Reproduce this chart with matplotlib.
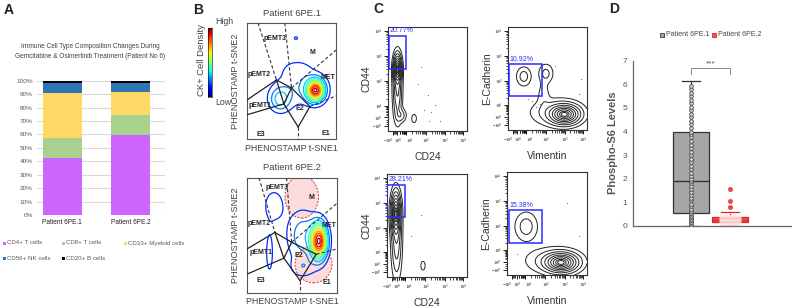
import numpy as np
import matplotlib
matplotlib.use('Agg')
import matplotlib.pyplot as plt
from matplotlib import font_manager
from matplotlib.patches import Rectangle, Ellipse
from matplotlib.colors import Normalize

W, H = 792, 308
_names = {f.name for f in font_manager.fontManager.ttflist}
HAS_NARROW = 'Liberation Sans Narrow' in _names
NARROW = 'Liberation Sans Narrow' if HAS_NARROW else 'Liberation Sans'
NS = 1.2 if HAS_NARROW else 1.0   # size factor for narrow text
SANS = 'Liberation Sans'
plt.rcParams['font.family'] = [SANS, 'DejaVu Sans']
plt.rcParams['mathtext.fontset'] = 'custom'
plt.rcParams['mathtext.rm'] = 'Liberation Serif'
plt.rcParams['mathtext.it'] = 'Liberation Serif:italic'

# ---------------- Panel A data ----------------
a_patients = ['Patient 6PE.1', 'Patient 6PE.2']
a_types = ['CD4+ T cells', 'CD8+ T cells', 'CD33+ Myeloid cells', 'CD56+ NK cells', 'CD20+ B cells']
a_cd4 = [42.5, 59.5]
a_cd8 = [15.0, 15.0]
a_cd33 = [33.5, 17.0]
a_cd56 = [7.5, 6.5]
a_cd20 = [1.5, 2.0]
a_colors = ['#cc66ff', '#a9d18e', '#ffd966', '#2e75b6', '#000000']
a_yticks = [0, 10, 20, 30, 40, 50, 60, 70, 80, 90, 100]
a_title = 'Immune Cell Type Composition Changes During\nGemcitabine & Osimertinib Treatment (Patient No 6)'

# ---------------- Panel B data ----------------
b_titles = ['Patient 6PE.1', 'Patient 6PE.2']
b_region_names = ['pEMT3', 'M', 'pEMT2', 'MET', 'pEMT1', 'E2', 'E3', 'E1']
b_region_pos_1 = [(0.31, 0.87), (0.73, 0.75), (0.14, 0.56), (0.91, 0.53), (0.15, 0.29), (0.59, 0.265), (0.15, 0.04), (0.89, 0.05)]
b_region_pos_2 = [(0.33, 0.92), (0.72, 0.83), (0.13, 0.605), (0.91, 0.585), (0.16, 0.35), (0.58, 0.325), (0.15, 0.105), (0.89, 0.095)]
# vertices: pEMT2, centre, pEMT1, right, bottom
b_vert_1 = [(0.331, 0.509), (0.50, 0.44), (0.414, 0.303), (0.707, 0.28), (0.575, 0.103)]
b_vert_2 = [(0.31, 0.527), (0.496, 0.441), (0.41, 0.303), (0.769, 0.337), (0.59, 0.107)]
b_edge_1 = [(0.124, 1.0), (0.425, 1.0), (1.0, 0.766), (1.0, 0.371), (0.575, 0.0), (0.0, 0.337), (0.0, 0.209)]
b_edge_2 = [(0.134, 1.0), (0.44, 1.0), (1.0, 0.78), (1.0, 0.383), (0.59, 0.0), (0.0, 0.383), (0.0, 0.164)]
# density blobs: (cx, cy, sx, sy, amplitude)
b_blobs_1 = [(0.77, 0.42, 0.065, 0.06, 1.0), (0.37, 0.34, 0.08, 0.07, 0.28), (0.60, 0.45, 0.20, 0.12, 0.15),
             (0.56, 0.60, 0.10, 0.05, 0.09), (0.55, 0.87, 0.03, 0.02, 0.09)]
b_blobs_2 = [(0.80, 0.45, 0.06, 0.10, 1.0), (0.62, 0.50, 0.12, 0.15, 0.22), (0.30, 0.76, 0.08, 0.10, 0.14),
             (0.25, 0.35, 0.035, 0.16, 0.11), (0.62, 0.22, 0.10, 0.06, 0.12)]
b_circles_2 = [(0.608, 0.836, 0.373, 0.37), (0.739, 0.251, 0.41, 0.326)]

# ---------------- Panel C data ----------------
c_tick_labels = ['$-10^0$', '$10^0$', '$10^1$', '$10^2$', '$10^3$', '$10^4$']
c_tick_vals = [-1, 1, 10, 100, 1000, 10000]
c_xlabels = ['CD24', 'Vimentin', 'CD24', 'Vimentin']
c_ylabels = ['CD44', 'E-Cadherin', 'CD44', 'E-Cadherin']
c_gate_pct = ['20.77%', '10.92%', '28.21%', '15.38%']
c_gates = [(0.013, 0.597, 0.22, 0.32), (0.013, 0.33, 0.42, 0.31), (0.005, 0.586, 0.215, 0.31), (0.025, 0.306, 0.415, 0.324)]
c_blobs = [
    [(0.12, 0.60, 0.03, 0.08, 1.0), (0.12, 0.40, 0.035, 0.18, 0.45), (0.33, 0.12, 0.022, 0.03, 0.15), (0.17, 0.15, 0.04, 0.04, 0.2)],
    [(0.72, 0.15, 0.11, 0.055, 1.0), (0.62, 0.17, 0.20, 0.08, 0.25), (0.20, 0.52, 0.06, 0.06, 0.2),
     (0.48, 0.55, 0.06, 0.06, 0.18), (0.45, 0.35, 0.05, 0.08, 0.1)],
    [(0.11, 0.62, 0.035, 0.12, 1.0), (0.12, 0.35, 0.04, 0.22, 0.35), (0.45, 0.11, 0.022, 0.035, 0.12)],
    [(0.68, 0.12, 0.12, 0.055, 1.0), (0.58, 0.14, 0.22, 0.08, 0.2), (0.24, 0.47, 0.09, 0.09, 0.2)],
]
c_dots = [
    [(0.45, 0.2), (0.5, 0.35), (0.55, 0.18), (0.6, 0.25), (0.38, 0.45), (0.42, 0.62), (0.66, 0.1), (0.52, 0.1)],
    [(0.3, 0.28), (0.35, 0.22), (0.9, 0.35), (0.25, 0.3), (0.6, 0.62), (0.92, 0.5), (0.4, 0.25)],
    [(0.43, 0.6), (0.3, 0.4)],
    [(0.9, 0.38), (0.12, 0.2), (0.75, 0.7)],
]

# ---------------- Panel D data ----------------
d_groups = ['Patient 6PE.1', 'Patient 6PE.2']
d_q1 = [0.56, 0.16]
d_med = [1.92, 0.25]
d_q3 = [4.0, 0.40]
d_whislo = [0.0, 0.03]
d_whishi = [6.16, 0.61]
d_fliers_2 = [0.79, 1.05, 1.58]
d_points_1 = [0.0, 0.05, 0.12, 0.18, 0.25, 0.31, 0.38, 0.44, 0.5, 0.55, 0.62, 0.72, 0.83, 0.95, 1.08, 1.2,
              1.33, 1.46, 1.58, 1.7, 1.8, 1.9, 2.0, 2.12, 2.25, 2.4, 2.55, 2.7, 2.85, 3.0, 3.15, 3.3, 3.45,
              3.6, 3.75, 3.88, 4.0, 4.15, 4.3, 4.45, 4.6, 4.75, 4.9, 5.05, 5.2, 5.35, 5.5, 5.65, 5.8, 5.92]
d_points_2 = [0.05, 0.1, 0.14, 0.18, 0.21, 0.24, 0.27, 0.3, 0.33, 0.37, 0.42, 0.48, 0.55]
d_yticks = [0, 1, 2, 3, 4, 5, 6, 7]

fig = plt.figure(figsize=(W / 100, H / 100), dpi=100)


def px_axes(x0, y0, x1, y1):
    return fig.add_axes([x0 / W, 1 - y1 / H, (x1 - x0) / W, (y1 - y0) / H])


def ftext(x, y, s, **kw):
    return fig.text(x / W, 1 - y / H, s, **kw)


def density(blobs, n=200):
    g = np.linspace(0, 1, n)
    X, Y = np.meshgrid(g, g)
    Z = np.zeros_like(X)
    for cx, cy, sx, sy, a in blobs:
        Z += a * np.exp(-(((X - cx) / sx) ** 2 + ((Y - cy) / sy) ** 2) / 2)
    return X, Y, Z / Z.max()


# ====== Panel labels ======
for lab, x, y in [('A', 4, 10), ('B', 193, 10), ('C', 373, 9), ('D', 609, 9)]:
    ftext(x, y, lab, fontsize=10, fontweight='bold', va='center', ha='left', color='#222222')

# ====== Panel A ======
axA = px_axes(37, 80.7, 165, 215)
xpos = np.arange(len(a_patients))
bottom = np.zeros(len(a_patients))
for vals, col in zip([a_cd4, a_cd8, a_cd33, a_cd56, a_cd20], a_colors):
    axA.bar(xpos, vals, width=0.571, bottom=bottom, color=col, edgecolor='none', zorder=3)
    bottom += np.array(vals)
axA.set_xlim(-0.369, 1.505)
axA.set_ylim(0, 100)
axA.set_yticks(a_yticks)
axA.set_yticklabels([f'{v}%' for v in a_yticks], fontsize=4.6 * NS, color='#595959', family=NARROW)
axA.set_xticks(xpos)
axA.set_xticklabels(a_patients, fontsize=4.7 * NS, color='#222222', family=NARROW)
axA.tick_params(length=0, pad=3)
axA.grid(axis='y', color='#d9d9d9', linewidth=0.8, zorder=0)
for s in axA.spines.values():
    s.set_visible(False)
ftext(90, 52, a_title, fontsize=4.7 * NS, ha='center', va='center', color='#404040', family=NARROW, linespacing=1.6)
leg_pos = [(3, 243), (62, 243), (124, 243), (3, 258), (62, 258)]
for (lx, ly), name, col in zip(leg_pos, a_types, a_colors):
    fig.patches.append(Rectangle((lx / W, 1 - (ly + 1.5) / H), 3 / W, 3 / H, transform=fig.transFigure,
                                 facecolor=col, edgecolor='none'))
    ftext(lx + 4, ly, name, fontsize=4.4 * NS, va='center', ha='left', color='#595959', family=NARROW)

# ====== Panel B ======
cax = px_axes(208, 28, 212, 97)
cax.imshow(np.linspace(1, 0, 100).reshape(-1, 1), aspect='auto', cmap='jet', extent=[0, 1, 0, 1])
cax.set_xticks([])
cax.set_yticks([])
for s in cax.spines.values():
    s.set_linewidth(0.4)
ftext(215, 22, 'High', fontsize=6.3, ha='left', va='center', color='#444444')
ftext(215, 102, 'Low', fontsize=6.3, ha='left', va='center', color='#444444')
ftext(201, 60, 'CK+ Cell Density', fontsize=6.8, rotation=90, ha='center', va='center', color='#444444')

b_boxes = [(247, 23, 336, 139), (247, 178, 337, 293)]
norm = Normalize(vmin=-0.12, vmax=1.0)
for i, (x0, y0, x1, y1) in enumerate(b_boxes):
    ax = px_axes(x0, y0, x1, y1)
    ax.set_xlim(0, 1)
    ax.set_ylim(0, 1)
    ax.set_xticks([])
    ax.set_yticks([])
    for s in ax.spines.values():
        s.set_linewidth(0.8)
        s.set_color('#555555')
    if i == 1:
        for cx, cy, w, h in b_circles_2:
            ax.add_patch(Ellipse((cx, cy), w, h, facecolor='#fbdcdc', edgecolor='#e03030',
                                 linestyle=(0, (2, 1.5)), linewidth=0.7, zorder=1))
    blobs = b_blobs_1 if i == 0 else b_blobs_2
    X, Y, Z = density(blobs)
    ax.contour(X, Y, Z, levels=np.linspace(0.07, 0.97, 12), cmap='jet', norm=norm, linewidths=0.9, zorder=2)
    vert = b_vert_1 if i == 0 else b_vert_2
    edge = b_edge_1 if i == 0 else b_edge_2
    vp2, vc, vp1, vr, vb = vert
    dashed = [(edge[0], vp2), (edge[1], vc), (vc, edge[2]), (vr, edge[3]), (vb, edge[4])]
    solid = [(edge[5], vp2), (vp2, vc), (edge[6], vp1), (vp2, vp1), (vc, vp1), (vc, vr), (vr, vb), (vp1, vb)]
    for p, q in dashed:
        ax.plot([p[0], q[0]], [p[1], q[1]], color='#333333', lw=0.8, ls=(0, (3, 2)), zorder=3)
    for p, q in solid:
        ax.plot([p[0], q[0]], [p[1], q[1]], color='#222222', lw=0.9, zorder=3)
    pos = b_region_pos_1 if i == 0 else b_region_pos_2
    for name, (px, py) in zip(b_region_names, pos):
        ax.text(px, py, name, fontsize=5, fontweight='bold', ha='center', va='center', color='#222222', zorder=4)
    ftext((x0 + x1) / 2, y0 - 10, b_titles[i], fontsize=6.8, ha='center', va='center', color='#444444')
    ftext((x0 + x1) / 2, y1 + 9, 'PHENOSTAMP t-SNE1', fontsize=6.4, ha='center', va='center', color='#444444')
    ftext(236, (y0 + y1) / 2, 'PHENOSTAMP t-SNE2', fontsize=6.6, rotation=90, ha='center', va='center', color='#444444')

# ====== Panel C ======
x_frac = [0.06, 0.12, 0.23, 0.48, 0.72, 0.95]
y_frac = [0.05, 0.13, 0.24, 0.48, 0.72, 0.96]
x_align = ['right', 'center', 'left', 'center', 'center', 'center']


def minor_positions(fr):
    out = []
    for k in range(2, 5):
        a, b = fr[k], fr[k + 1]
        for m in range(2, 10):
            out.append(a + (b - a) * np.log10(m))
    for k in range(0, 2):
        a, b = fr[k], fr[k + 1]
        out.extend(list(np.linspace(a, b, 5)[1:-1]))
    lo = fr[1]
    out.extend([lo + (fr[2] - lo) * np.log10(m) for m in range(2, 10)])
    return out


c_boxes = [(388, 27, 467, 131), (508, 27, 587, 130), (387, 174, 467, 277), (507, 172, 587, 275)]
for i, (x0, y0, x1, y1) in enumerate(c_boxes):
    ax = px_axes(x0, y0, x1, y1)
    ax.set_xlim(0, 1)
    ax.set_ylim(0, 1)
    X, Y, Z = density(c_blobs[i])
    ax.contour(X, Y, Z, levels=[0.05, 0.12, 0.22, 0.34, 0.48, 0.62, 0.76, 0.88, 0.95], colors='#222222', linewidths=0.7)
    dx, dy = zip(*c_dots[i])
    ax.scatter(dx, dy, s=0.6, color='#555555', linewidths=0)
    gx, gy, gw, gh = c_gates[i]
    ax.add_patch(Rectangle((gx, gy), gw, gh, fill=False, edgecolor='#2b2bff', linewidth=1.1, zorder=5))
    ax.text(gx + 0.01, gy + gh + 0.015, c_gate_pct[i], fontsize=5, color='#2b2bff', ha='left', va='bottom')
    ax.set_xticks(x_frac)
    xtl = ax.set_xticklabels(c_tick_labels, fontsize=3.1)
    for t, al in zip(xtl, x_align):
        t.set_horizontalalignment(al)
    ax.set_yticks(y_frac)
    ax.set_yticklabels(c_tick_labels, fontsize=3.1)
    ax.set_xticks(minor_positions(x_frac), minor=True)
    ax.set_yticks(minor_positions(y_frac), minor=True)
    ax.tick_params(which='major', length=3, width=0.6, pad=1.2)
    ax.tick_params(which='minor', length=1.8, width=0.5)
    for s in ax.spines.values():
        s.set_linewidth(0.8)
        s.set_color('#333333')
    ftext((x0 + x1) / 2, y1 + 26, c_xlabels[i], fontsize=7.5, ha='center', va='center', color='#333333')
    ftext(x0 - 21, (y0 + y1) / 2, c_ylabels[i], fontsize=7.5, rotation=90, ha='center', va='center', color='#333333')

# ====== Panel D ======
axD = px_axes(633, 60.7, 791, 226)
stats = []
for k in range(2):
    stats.append(dict(med=d_med[k], q1=d_q1[k], q3=d_q3[k], whislo=d_whislo[k], whishi=d_whishi[k],
                      fliers=[] if k == 0 else d_fliers_2, label=d_groups[k]))
bp = axD.bxp(stats, positions=[1, 2], widths=0.92, patch_artist=True, showfliers=True,
             boxprops=dict(linewidth=0.9), medianprops=dict(linewidth=1.0),
             whiskerprops=dict(linewidth=0.9), capprops=dict(linewidth=0.9),
             flierprops=dict(marker='o', markersize=2.6, markerfacecolor='#e84c4c', markeredgecolor='#e84c4c'))
face = ['#a6a6a6', '#ee5555']
edge = ['#333333', '#dd2222']
for k in range(2):
    bp['boxes'][k].set_facecolor(face[k])
    bp['boxes'][k].set_edgecolor(edge[k])
    bp['medians'][k].set_color(edge[k])
    for j in (2 * k, 2 * k + 1):
        bp['whiskers'][j].set_color(edge[k])
        bp['caps'][j].set_color(edge[k])
axD.plot([1] * len(d_points_1), d_points_1, 'o', ms=2.6, mfc='#dddddd', mec='#444444', mew=0.6, zorder=4)
axD.plot([2] * len(d_points_2), d_points_2, '_', ms=16, mec='#ffe5e5', mew=0.6, zorder=4)
axD.set_xlim(-0.487, 3.56)
axD.set_ylim(0, 7)
axD.set_yticks(d_yticks)
axD.set_yticklabels([str(v) for v in d_yticks], fontsize=6, color='#555555', family=NARROW)
axD.set_xticks([])
axD.tick_params(axis='y', length=0, pad=4)
for s in ['top', 'right']:
    axD.spines[s].set_visible(False)
for s in ['left', 'bottom']:
    axD.spines[s].set_color('#666666')
    axD.spines[s].set_linewidth(0.9)
axD.plot([1, 1, 2, 2], [6.42, 6.68, 6.68, 6.42], color='#888888', lw=0.7, clip_on=False)
axD.text(1.5, 6.72, '***', ha='center', va='bottom', fontsize=6, color='#555555')
ftext(613, 143, 'Phospho-S6 Levels', fontsize=8, fontweight='bold', rotation=90, ha='center', va='center', color='#555555')
# legend
for lx, col, ec, name in [(660, '#a6a6a6', '#333333', d_groups[0]), (712, '#ee5555', '#dd2222', d_groups[1])]:
    fig.patches.append(Rectangle((lx / W, 1 - 37 / H), 4 / W, 4 / H, transform=fig.transFigure,
                                 facecolor=col, edgecolor=ec, linewidth=0.6))
    ftext(lx + 5.5, 35, name, fontsize=5.0 * NS, ha='left', va='center', color='#444444', family=NARROW)

fig.savefig('out.png', dpi=100)
